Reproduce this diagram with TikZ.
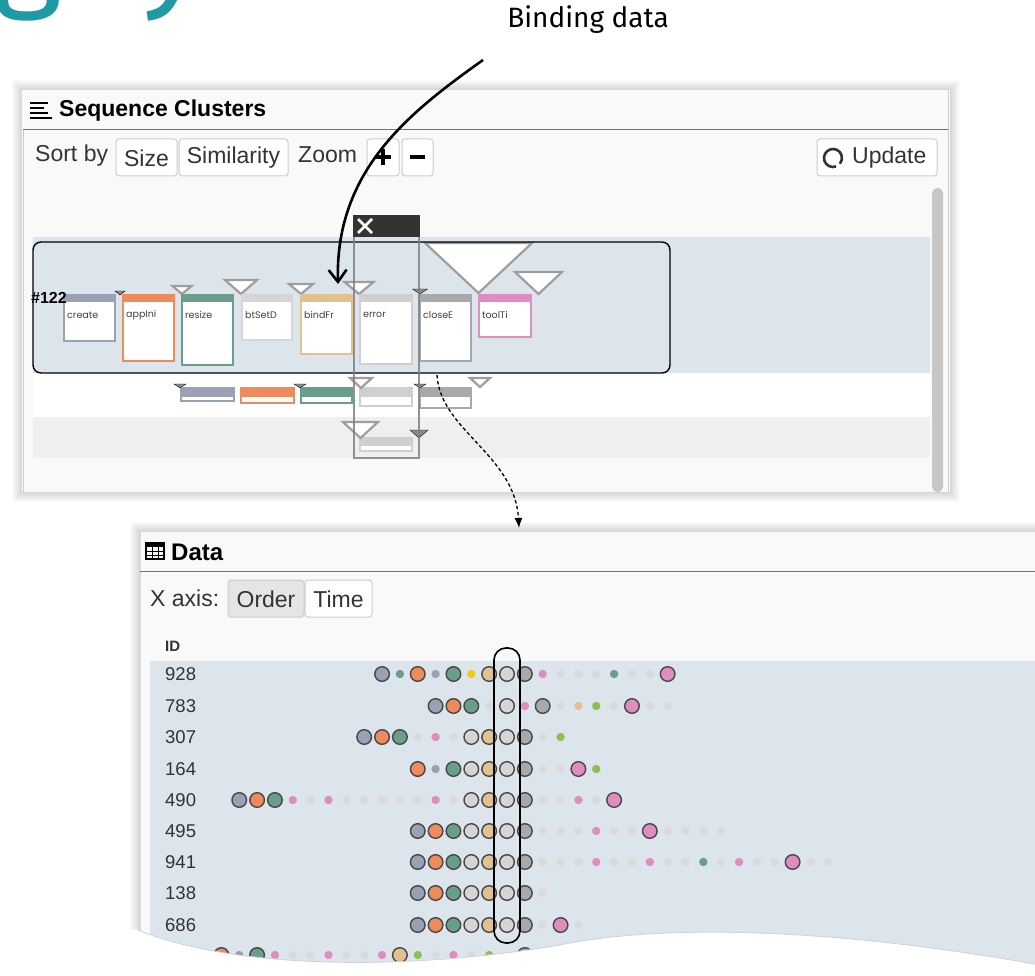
\documentclass[tikz,border=0pt]{standalone}
\usepackage{fontspec}
\setmainfont{Liberation Sans}
\newfontfamily\plex{Fira Sans}
\newfontfamily\geo{Poppins}
\usetikzlibrary{arrows.meta}
\definecolor{cB}{HTML}{9AA1B6}
\definecolor{cO}{HTML}{EE8A5B}
\definecolor{cT}{HTML}{6B9E89}
\definecolor{cL}{HTML}{D5D5D5}
\definecolor{cN}{HTML}{E0C18F}
\definecolor{cG}{HTML}{A9A9A9}
\definecolor{cP}{HTML}{DF8DC1}
\definecolor{cV}{HTML}{8CC152}
\definecolor{cY}{HTML}{F2C81E}
\definecolor{cS}{HTML}{DADADA}
\definecolor{cE}{HTML}{CFCFCF}
\definecolor{bandc}{HTML}{DDE5EC}
\definecolor{panelbg}{HTML}{F9F9F9}
\definecolor{grayband}{HTML}{EFEFEF}
\definecolor{titleteal}{HTML}{1E9AA2}
\definecolor{uitext}{HTML}{333333}
\newcommand\evbox[6]{%
  \fill[white] (#1,#2) rectangle (#3,#4);
  \fill[#5] (#1,#2) rectangle (#3,#2+#6);
  \draw[#5, line width=2.6] (#1,#2) rectangle (#3,#4);}
\newcommand\tri[5]{%
  \draw[#5] (#1-#3,#2) -- (#1+#3,#2) -- (#1,#2+#4) -- cycle;}
\newcommand\drow[3]{%
  \foreach \k/\c in {#3} {\path[smalldot, fill=\c] ({507+17.85*\k},#1) circle;}
  \foreach \k/\c in {#2} {\path[bigdot, fill=\c] ({507+17.85*\k},#1) circle;}}
\begin{document}
\begin{tikzpicture}[x=1pt,y=-1pt,
  ui/.style={font=\fontsize{23}{27}\selectfont, text=uitext, inner sep=0},
  hdr/.style={font=\bfseries\fontsize{23}{27}\selectfont, text=black, inner sep=0},
  btn/.style={draw=black!20, fill=white, rounded corners=3, line width=1},
  boxlbl/.style={font=\geo\fontsize{9.5}{10}\selectfont, text=black!75, inner sep=0, anchor=west},
  idtxt/.style={font=\fontsize{18.5}{22}\selectfont, text=uitext, inner sep=0, anchor=west},
  tristyle/.style={draw=black!38, line width=2.2, fill=white, line join=miter},
  darktri/.style={fill=black!45},
  bigdot/.style={draw=black!72, line width=1.4, radius=7.3},
  smalldot/.style={radius=4.2}]
\useasboundingbox (0,0) rectangle (1035,976);
\fill[white] (0,0) rectangle (1035,976);
% partial title (cut off at the top edge, as in the reference)
\begin{scope}
\clip (0,0) rectangle (1035,976);
\node[anchor=base west, inner sep=0, font=\plex\fontsize{130}{130}\selectfont, text=titleteal] (tg) at (-6,-6) {g};
\node[anchor=base west, inner sep=0, font=\plex\fontsize{130}{130}\selectfont, text=titleteal] (ty) at (140,-6) {y};
\end{scope}
% ===== top panel =====
\foreach \d in {1,...,10} \fill[black, opacity=0.015] (22-\d,90-\d) rectangle (950+\d,492+\d);
\fill[panelbg] (22,90) rectangle (950,492);
\draw[black!20, line width=1] (948,90) -- (948,492);
\draw[black!20, line width=1] (23,130) -- (23,492);
% header
\foreach \yy/\len in {103/18,108/14,113/18,118/22} \draw[line width=2.2] (30,\yy) -- (30+\len,\yy);
\node[hdr, anchor=west] (sctitle) at (59,111) {Sequence Clusters};
\draw[black!55, line width=1] (23,130) -- (948,130);
% toolbar
\node[ui, anchor=west] (sortby) at (35,156) {Sort by};
\draw[btn] (116,139) rectangle (177,176);
\node[ui] (bsize) at (146.5,158) {Size};
\draw[btn] (179,139) rectangle (288,176);
\node[ui] (bsim) at (233.5,158) {Similarity};
\node[ui, anchor=west] (zoom) at (298,155) {Zoom};
\draw[btn] (367,139) rectangle (399,176);
\draw[line width=4] (375,157) -- (391,157) (383,149) -- (383,165);
\draw[btn] (402,139) rectangle (433,176);
\draw[line width=4] (410,157) -- (425,157);
\draw[btn] (817,139) rectangle (937,176);
\draw[line width=2.6, black!80] (833,158) ++(70:9) arc[start angle=70, end angle=400, radius=9];
\node[ui, anchor=west] (update) at (852,158) {Update};
% scrollbar
\fill[black!22, rounded corners=5] (932,188) rectangle (943,492);
% bands
\fill[bandc] (33,237) rectangle (930,373);
\fill[white] (33,373) rectangle (930,417);
\fill[grayband] (33,417) rectangle (930,458);
% triangles
\tri{478.5}{243}{53.5}{50}{tristyle}
\tri{538.5}{272}{23.5}{22}{tristyle}
\tri{182}{286}{9.5}{8}{tristyle}
\tri{241}{280}{16}{14}{tristyle}
\tri{301}{284}{12}{10}{tristyle}
\tri{359}{282}{14.5}{12}{tristyle}
% event boxes
\evbox{64}{295}{115}{341}{cB}{7}
\evbox{123}{295}{174}{361}{cO}{7}
\evbox{182}{295}{233}{365}{cT}{7}
\evbox{242}{295}{292}{340}{cL}{7}
\evbox{301}{295}{352}{354}{cN}{7}
\evbox{360}{295}{412}{364}{cE}{7}
\evbox{420}{295}{471}{361}{cG}{7}
\evbox{479}{295}{531}{337}{cP}{7}
\tri{120}{291}{5}{4}{darktri}
\tri{420}{289}{7.5}{5}{darktri}
\node[boxlbl] (lcreate) at (67,315) {create};
\node[boxlbl] (lappini) at (126,315) {appIni};
\node[boxlbl] (lresize) at (185,315) {resize};
\node[boxlbl] (lbtset) at (245,315) {btSetD};
\node[boxlbl] (lbindfr) at (304,315) {bindFr};
\node[boxlbl] (lerror) at (363,315) {error};
\node[boxlbl] (lclose) at (423,315) {closeE};
\node[boxlbl] (ltool) at (482,315) {toolTi};
\node[font=\bfseries\fontsize{16}{18}\selectfont, inner sep=0, anchor=west] (c122) at (31,298) {\#122};
% cluster outline
\draw[line width=1.4, rounded corners=8] (33,242) rectangle (670,373);
% lower bars
\evbox{181}{388}{234}{401}{cB}{9}
\evbox{241}{388}{294}{403}{cO}{9}
\evbox{301}{388}{352}{403}{cT}{9}
\evbox{360}{388}{412}{406}{cE}{9}
\evbox{420}{388}{471}{408}{cG}{9}
\evbox{360}{438}{412}{451}{cE}{8}
\tri{361}{378}{11}{10}{tristyle}
\tri{480}{378}{10}{9}{tristyle}
\tri{360.5}{422}{17.5}{16}{tristyle}
\tri{180}{384}{6}{4}{darktri}
\tri{300}{384}{6}{4}{darktri}
\tri{420}{384}{6}{4}{darktri}
\tri{419}{430}{9}{8}{darktri}
% selection column
\draw[black!50, opacity=.85, line width=2.5] (354,236) rectangle (419,458);
\fill[black!80] (353,215) rectangle (420,237);
\draw[white, line width=2.6] (358,219) -- (372,233) (372,219) -- (358,233);
% ===== data panel =====
\foreach \d in {1,...,10} \fill[black, opacity=0.015] (140-\d,532-\d) rectangle (1040,990);
\fill[panelbg] (140,532) rectangle (1040,990);
\draw[black!15, line width=1] (140,532) -- (140,960);
\draw[line width=1.2] (146,543) rectangle (164,559);
\fill (146,543) rectangle (164,547);
\draw[line width=1] (146,551) -- (164,551) (146,555) -- (164,555) (152,543) -- (152,559) (158,543) -- (158,559);
\node[hdr, font=\bfseries\fontsize{24}{28}\selectfont, anchor=west] (dtitle) at (171,552) {Data};
\draw[black!55, line width=1] (140,571) -- (1035,571);
\node[ui, anchor=west] (xaxis) at (150,598) {X axis:};
\draw[btn, fill=black!10] (228,580) rectangle (304,617);
\node[ui] (border) at (266,599) {Order};
\draw[btn] (305,580) rectangle (372,617);
\node[ui] (btime) at (338.5,599) {Time};
\node[font=\bfseries\fontsize{15}{18}\selectfont, inner sep=0, anchor=west, text=uitext] (idh) at (165,646) {ID};
\fill[bandc] (150,661) rectangle (1035,990);
% rows
\node[idtxt] (r1) at (165,674) {928};
\node[idtxt] (r2) at (165,706) {783};
\node[idtxt] (r3) at (165,737) {307};
\node[idtxt] (r4) at (165,769) {164};
\node[idtxt] (r5) at (165,800) {490};
\node[idtxt] (r6) at (165,831) {495};
\node[idtxt] (r7) at (165,862) {941};
\node[idtxt] (r8) at (165,893) {138};
\node[idtxt] (r9) at (165,925) {686};
\node[idtxt] (r10) at (165,957) {316};
\drow{674}{-7/cB,-5/cO,-3/cT,-1/cN,0/cL,1/cG,9/cP}{-6/cT,-4/cB,-2/cY,2/cP,3/cS,4/cS,5/cS,6/cT,7/cS,8/cS}
\drow{706}{-4/cB,-3/cO,-2/cT,0/cL,2/cG,7/cP}{-1/cS,1/cP,3/cS,4/cN,5/cV,6/cS,8/cS,9/cS}
\drow{737}{-8/cB,-7/cO,-6/cT,-2/cL,-1/cN,0/cL,1/cG}{-5/cS,-4/cP,-3/cS,2/cS,3/cV}
\drow{769}{-5/cO,-3/cT,-2/cL,-1/cN,0/cL,1/cG,4/cP}{-4/cB,2/cS,3/cS,5/cV}
\drow{800}{-15/cB,-14/cO,-13/cT,-2/cL,-1/cN,0/cL,1/cG,6/cP}{-12/cP,-11/cS,-10/cP,-9/cS,-8/cS,-7/cS,-6/cS,-5/cS,-4/cP,-3/cS,2/cS,3/cS,4/cP,5/cS}
\drow{831}{-5/cB,-4/cO,-3/cT,-2/cL,-1/cN,0/cL,1/cG,8/cP}{2/cS,3/cS,4/cS,5/cP,6/cS,7/cS,9/cS,10/cS,11/cS,12/cS}
\drow{862}{-5/cB,-4/cO,-3/cT,-2/cL,-1/cN,0/cL,1/cG,16/cP}{2/cS,3/cS,4/cS,5/cP,6/cS,7/cS,8/cP,9/cS,10/cS,11/cT,12/cS,13/cP,14/cS,15/cS,17/cS,18/cS}
\drow{893}{-5/cB,-4/cO,-3/cT,-2/cL,-1/cN,0/cL,1/cG}{2/cS}
\drow{925}{-5/cB,-4/cO,-3/cT,-2/cL,-1/cN,0/cL,1/cG,3/cP}{2/cS,4/cS}
\drow{955}{-16/cO,-14/cT,-6/cN,1/cG}{-15/cB,-13/cP,-12/cS,-11/cS,-10/cP,-9/cS,-8/cS,-7/cP,-5/cV,-4/cS,-3/cP,-2/cS,-1/cV}
\draw[line width=1.6, rounded corners=12] (494,648) rectangle (520,943);
% torn edge
\foreach \d in {1,...,6} \draw[black, opacity=0.03, line width=2] (120,930+\d) -- (138,930+\d) .. controls (230,968+\d) and (400,972+\d) .. (560,945+\d) .. controls (640,928+\d) and (800,922+\d) .. (1040,965+\d);
\fill[white] (100,925) -- (138,930) .. controls (230,968) and (400,972) .. (560,945) .. controls (640,928) and (800,922) .. (1040,965) -- (1040,990) -- (100,990) -- cycle;
\draw[black!18, line width=0.8] (138,930) .. controls (230,968) and (400,972) .. (560,945) .. controls (640,928) and (800,922) .. (1040,965);
% ===== annotations =====
\node[font=\plex\fontsize{28}{32}\selectfont, inner sep=0] (bind) at (588,20) {Binding data};
\coordinate (btail) at (483,60);
\coordinate (btip) at (338,284);
\draw[line width=2.6, -{Straight Barb[length=12pt,width=18pt,line width=2.6pt]}] (btail) .. controls (410,112) and (335,170) .. (btip);
\coordinate (dtail) at (437,375);
\coordinate (dtip) at (519,528);
\draw[line width=1.3, dash pattern=on 3.5pt off 2.5pt, -{Latex[length=10pt,width=8pt]}] (dtail) .. controls (440,430) and (515,455) .. (dtip);
\end{tikzpicture}
\end{document}
